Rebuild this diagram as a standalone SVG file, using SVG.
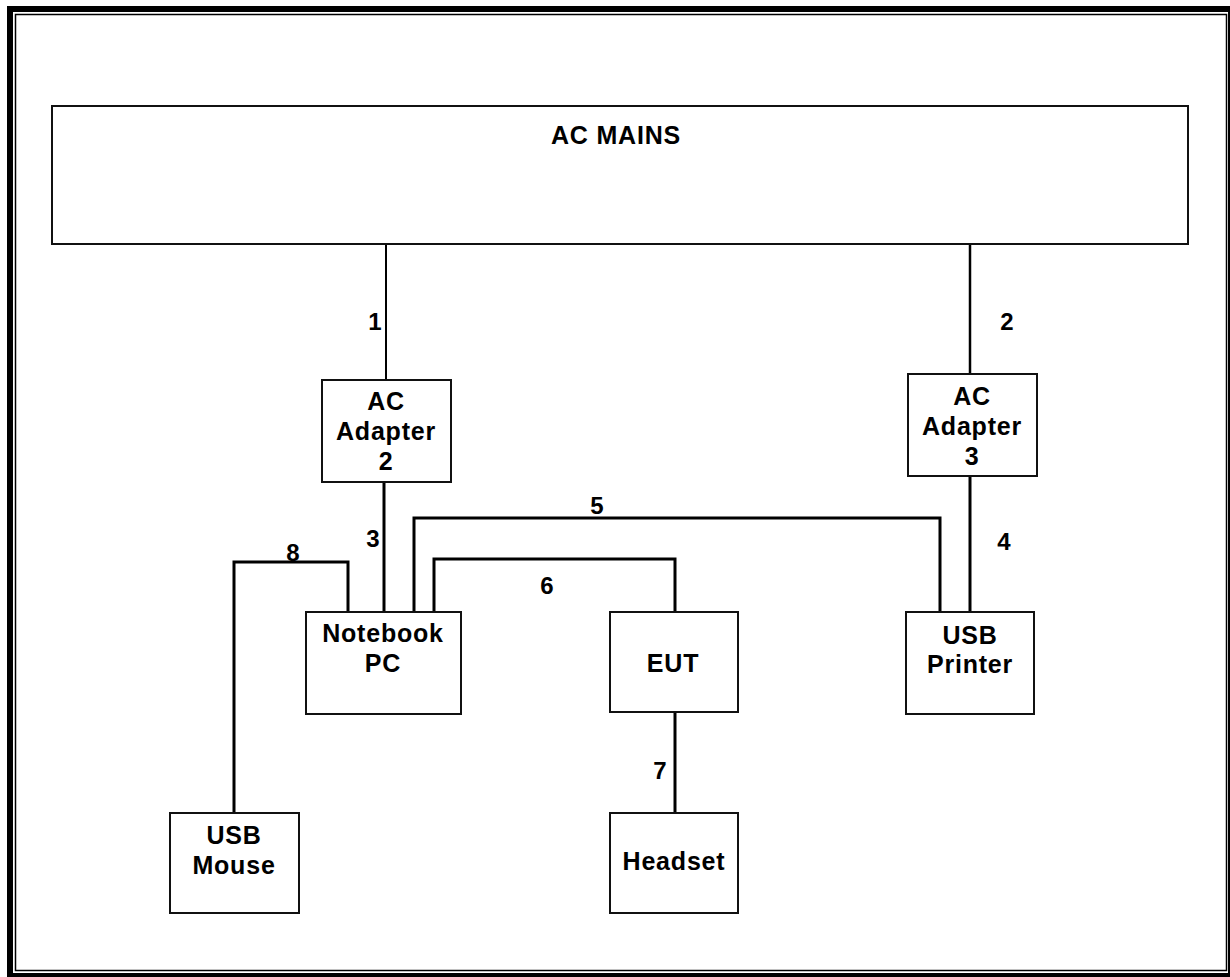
<svg xmlns="http://www.w3.org/2000/svg" width="1230" height="977" viewBox="0 0 1230 977">
<style>
.box{fill:#fff;stroke:#111;stroke-width:2}
.t{font-family:"Liberation Sans",Arial,sans-serif;font-weight:bold;font-size:25px;letter-spacing:0.8px;fill:#000;text-anchor:middle}
.lbl{font-family:"Liberation Sans",Arial,sans-serif;font-weight:bold;font-size:24px;fill:#000;text-anchor:middle}
.c{fill:none;stroke:#000;stroke-width:3}
</style>
<rect x="0" y="0" width="1230" height="977" fill="#fff"/>
<rect x="10" y="9" width="1221" height="967" fill="none" stroke="#000" stroke-width="6"/>
<rect x="15.5" y="14.5" width="1211" height="956" fill="none" stroke="#000" stroke-width="1.5"/>
<g id="connectors">
<path class="c" style="stroke-width:2" d="M386 244 V380"/>
<path class="c" style="stroke-width:2.5" d="M970 244 V374"/>
<path class="c" d="M384 482 V612"/>
<path class="c" d="M970 476 V612"/>
<path class="c" d="M414 612 V518 H940 V612"/>
<path class="c" d="M434 612 V559 H675 V612"/>
<path class="c" d="M675 712 V813"/>
<path class="c" d="M348 612 V562 H234 V813"/>
</g>
<g id="labels">
<text class="lbl" x="375" y="330">1</text>
<text class="lbl" x="1007" y="330">2</text>
<text class="lbl" x="373" y="547">3</text>
<text class="lbl" x="1004" y="550">4</text>
<text class="lbl" x="597" y="514">5</text>
<text class="lbl" x="547" y="594">6</text>
<text class="lbl" x="660" y="779">7</text>
<text class="lbl" x="293" y="561">8</text>
</g>
<g id="ac-mains">
<rect class="box" x="52" y="106" width="1136" height="138"/>
<text class="t" x="616" y="144">AC MAINS</text>
</g>
<g id="ac-adapter-2">
<rect class="box" x="322" y="380" width="129" height="102"/>
<text class="t" x="386" y="410">AC</text>
<text class="t" x="386" y="440">Adapter</text>
<text class="t" x="386" y="470">2</text>
</g>
<g id="ac-adapter-3">
<rect class="box" x="908" y="374" width="129" height="102"/>
<text class="t" x="972" y="405">AC</text>
<text class="t" x="972" y="435">Adapter</text>
<text class="t" x="972" y="465">3</text>
</g>
<g id="notebook-pc">
<rect class="box" x="306" y="612" width="155" height="102"/>
<text class="t" x="383" y="642">Notebook</text>
<text class="t" x="383" y="672">PC</text>
</g>
<g id="eut">
<rect class="box" x="610" y="612" width="128" height="100"/>
<text class="t" x="673" y="672">EUT</text>
</g>
<g id="usb-printer">
<rect class="box" x="906" y="612" width="128" height="102"/>
<text class="t" x="970" y="644">USB</text>
<text class="t" x="970" y="673">Printer</text>
</g>
<g id="usb-mouse">
<rect class="box" x="170" y="813" width="129" height="100"/>
<text class="t" x="234" y="844">USB</text>
<text class="t" x="234" y="874">Mouse</text>
</g>
<g id="headset">
<rect class="box" x="610" y="813" width="128" height="100"/>
<text class="t" x="674" y="870">Headset</text>
</g>
</svg>
